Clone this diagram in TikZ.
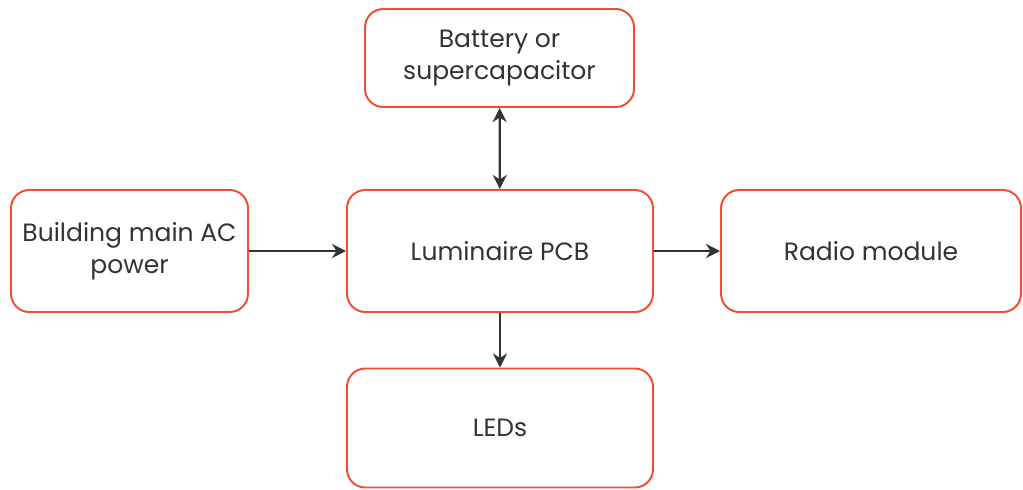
\documentclass[tikz,border=0pt]{standalone}
\usepackage{fontspec}
\setmainfont{Poppins}
\usetikzlibrary{arrows.meta}
\definecolor{boxred}{HTML}{F04E30}
\definecolor{ink}{HTML}{333333}
\tikzset{
  block/.style={draw=boxred, line width=1.4pt, rounded corners=13pt, fill=white,
    text=ink, align=center, inner sep=0pt,
    font=\fontsize{17.8}{22.5}\selectfont},
  link/.style={draw=ink, line width=1.6pt, -{Stealth[length=10pt,width=10pt]}}
}
\begin{document}
\begin{tikzpicture}[x=0.025cm, y=-0.025cm]
\useasboundingbox (0,0) rectangle (1023,489);
\node[block, minimum width=269*0.025cm, minimum height=98*0.025cm] (bat) at (499.5,58) {Battery or\\supercapacitor};
\node[block, minimum width=237*0.025cm, minimum height=122*0.025cm] (ac) at (129.5,251) {Building main AC\\power};
\node[block, minimum width=306*0.025cm, minimum height=122*0.025cm] (pcb) at (500,251) {Luminaire PCB};
\node[block, minimum width=300*0.025cm, minimum height=122*0.025cm] (radio) at (871,251) {Radio module};
\node[block, minimum width=306*0.025cm, minimum height=119*0.025cm] (led) at (500,428) {LEDs};
\draw[link, {Stealth[length=10pt,width=10pt]}-{Stealth[length=10pt,width=10pt]}] (bat) -- (pcb); % two-way link to storage
\draw[link] (ac) -- (pcb);
\draw[link] (pcb) -- (radio);
\draw[link] (pcb) -- (led);
\end{tikzpicture}
\end{document}
